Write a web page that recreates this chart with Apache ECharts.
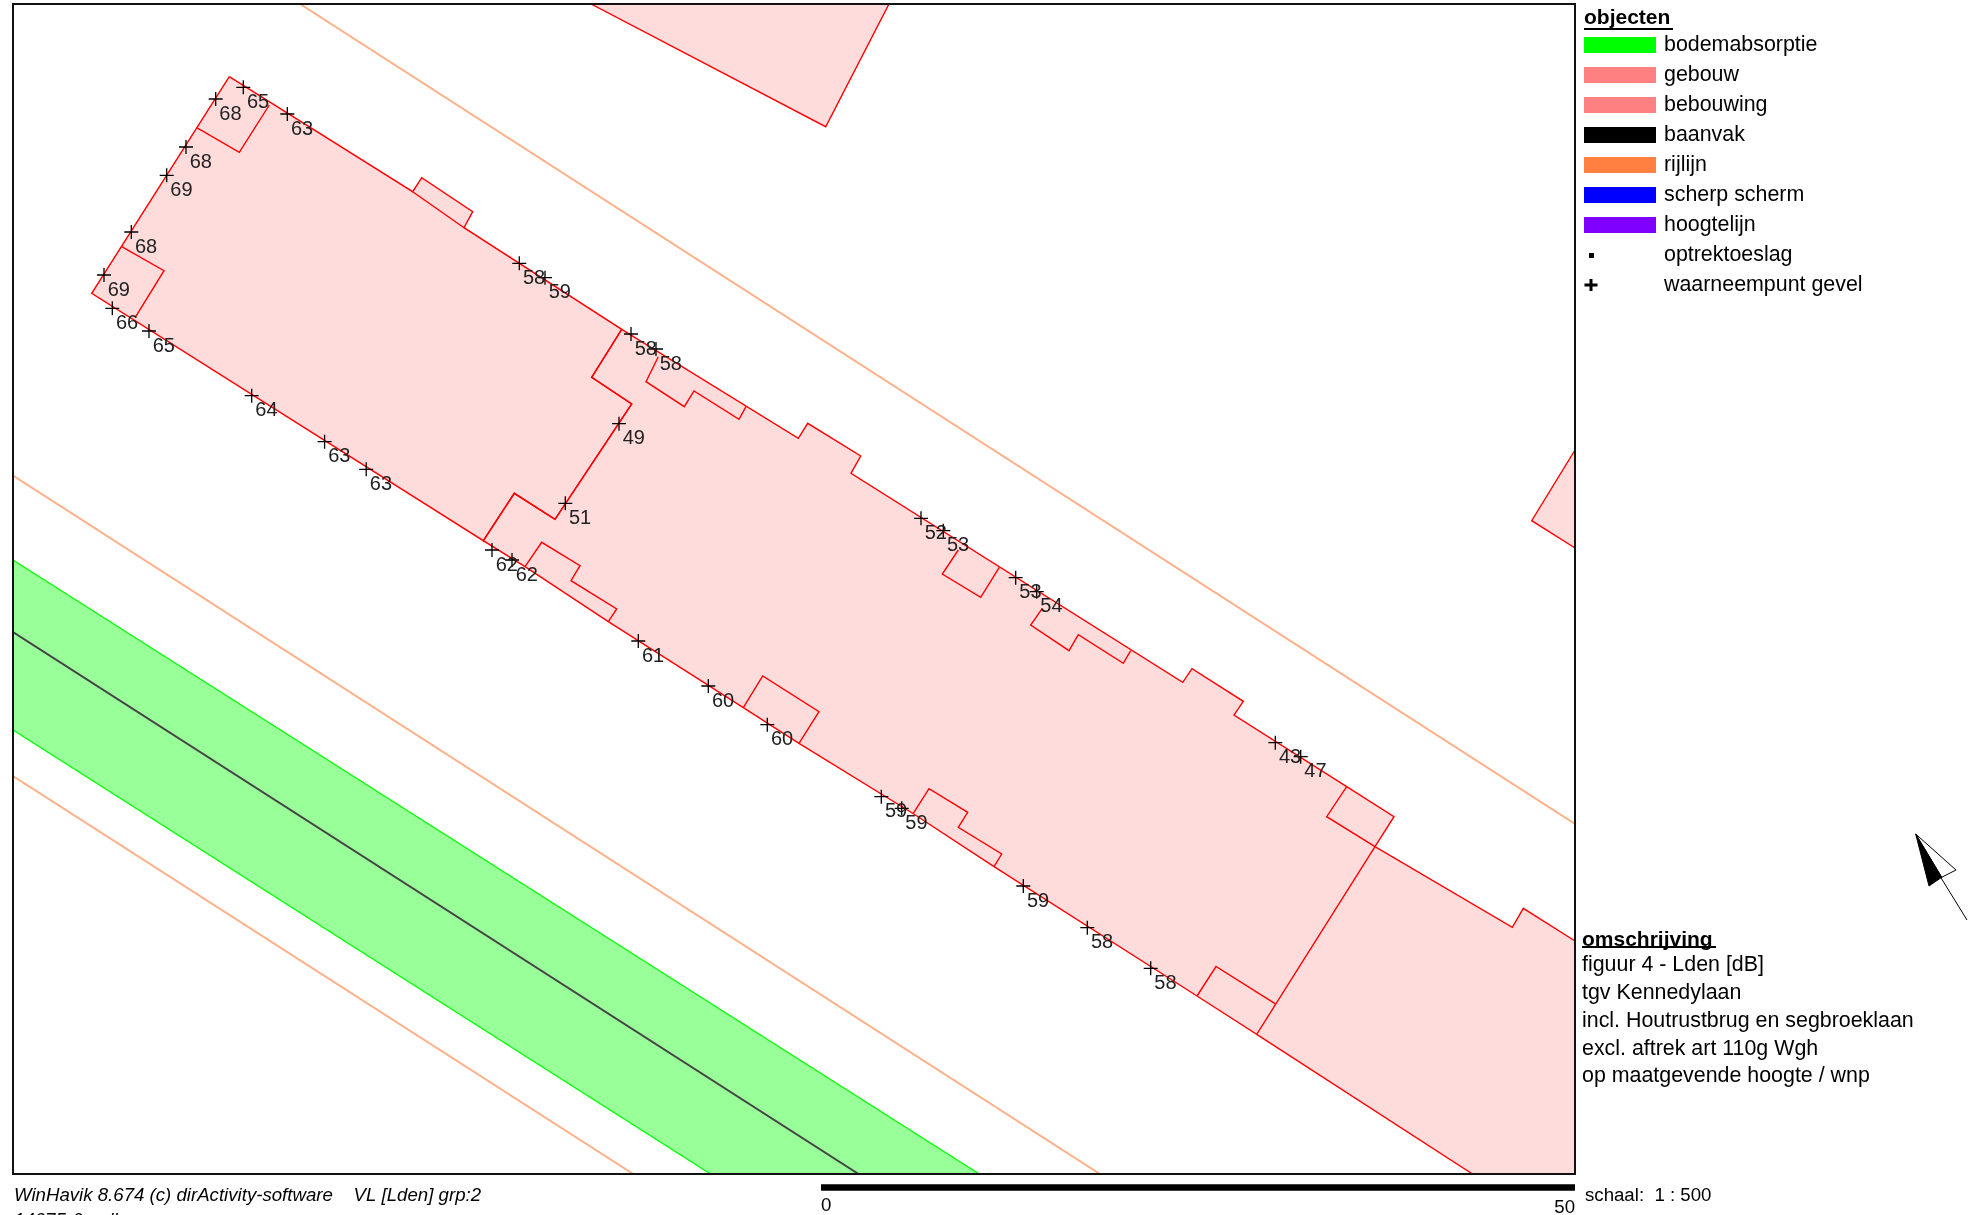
<!DOCTYPE html>
<html>
<head>
<meta charset="utf-8">
<style>html,body{margin:0;padding:0;background:#fff;overflow:hidden}#c{width:1973px;height:1215px}</style>
<script src="https://cdn.jsdelivr.net/npm/echarts@6/dist/echarts.min.js"></script>
</head>
<body>
<div id="c"></div>
<script>
// Map values, in map units.
const mapX = [13, 1575];
const mapY = [4, 1174];

const leftBlock = [[229.3,76.7],[412.7,191.7],[421.7,177.7],[472.7,211.7],[464,227.7],[621.7,329.3],[591.7,377.3],[631.7,404],[555,519.3],[514.3,493.3],[483.3,540.7],[91.7,293.3],[229.3,76.7]];
const middleBlock = [[621.7,329.3],[798.3,438.3],[807.7,423.3],[860.7,456],[851,473.3],[1182.7,682.3],[1192,668.7],[1243.3,701.3],[1234,715],[1346.7,786.7],[1394,816.7],[1375,846.7],[1256.7,1034.3],[1197,996],[994,866.7],[913,813.5],[799,743.3],[743.3,707.7],[608.3,621.7],[525,566.7],[483.3,540.7],[514.3,493.3],[555,519.3],[631.7,404],[591.7,377.3],[621.7,329.3]];
const rightBlock = [[1375,846.7],[1512.3,927.3],[1523.3,908.3],[1575,941],[1575,1174],[1472.5,1174],[1256.7,1034.3],[1375,846.7]];
const topBuilding = [[591,4],[825.7,126.7],[889,4]];
const cornerBuilding = [[1575,450],[1531.7,520.7],[1575,548]];

const wingTop = [[196.7,127.7],[239.3,152.3],[269.3,105]];
const wingLeft = [[121.7,246.7],[164,270.7],[135.7,316.7]];
const bayTop = [[412.7,191.7],[464,227.7]];
const recessA = [[658.3,356.7],[646,381.7],[684.3,406.7],[694,391],[739,419.3],[746,406.7]];
const recessB = [[525,566.7],[541.7,542.3],[580,565.7],[571,580.7],[616.7,609],[608.3,621.7]];
const recessC = [[958.3,550],[942.3,574],[980.7,597.3],[999.3,567.3]];
const recessD = [[1042.3,608.3],[1030.7,625],[1069,650.7],[1078.3,634.7],[1123.3,663.3],[1130.7,650.7]];
const recessE = [[743.3,707.7],[762.7,676],[819,711.7],[799,743.3]];
const recessF = [[913.3,813.3],[929,788.7],[967.7,812.3],[958.3,827.3],[1001.7,854],[994,866.7]];
const recessG = [[1346.7,786.7],[1326.7,816.7],[1375,846.7]];
const recessH = [[1197,996],[1216,966.5],[1275,1003.7]];
const topBuildingEdge = [[591,4],[825.7,126.7],[889,4]];
const cornerEdge = [[1575,450],[1531.7,520.7],[1575,548]];
const rightEdge = [[1375,846.7],[1512.3,927.3],[1523.3,908.3],[1575,941]];
const rightBottom = [[1256.7,1034.3],[1472.5,1174]];

const greenBand = [[13,560],[979.3,1174],[710.6,1174],[13,730]];
const greenEdgeTop = [[13,560],[979.3,1174]];
const greenEdgeBottom = [[13,730],[710.6,1174]];
const baanvak = [[13,632],[858.6,1174]];
const rijlijnA = [[300,4],[1575,824]];
const rijlijnB = [[13,475.6],[1100,1174]];
const rijlijnC = [[13,776],[633.3,1174]];

const gevelX = [243.3,215.7,287.3,186,166.7,131.3,104,112.3,149,519.3,545,251.7,324.6,366.2,631,656,619,565.3,492,512,638.3,708.3,767.3,881.3,901.7,1023.3,1087.3,1150.7,921,943.3,1015.7,1036.7,1275.3,1300.7];
const gevelY = [87.3,99,114,147,175.3,232,275,308.3,331,263.3,277.7,395.7,441.7,469.3,334,349,423.7,503.3,550,560,641,686,724.7,796.7,808.3,886,927.7,968.3,518.3,530.7,577.7,591.7,742.7,756.7];
const gevelLden = [65,68,63,68,69,68,69,66,65,58,59,64,63,63,58,58,49,51,62,62,61,60,60,59,59,59,58,58,52,53,53,54,43,47];

const legendNames = ['bodemabsorptie','gebouw','bebouwing','baanvak','rijlijn','scherp scherm','hoogtelijn','optrektoeslag','waarneempunt gevel'];
const legendColors = ['#00FF00','#FF8080','#FF8080','#000000','#FF8040','#0000FF','#8000FF','#000000','#000000'];
const descriptionLines = ['figuur 4 - Lden [dB]','tgv Kennedylaan','incl. Houtrustbrug en segbroeklaan','excl. aftrek art 110g Wgh','op maatgevende hoogte / wnp'];
const footerLines = ['WinHavik 8.674 (c) dirActivity-software    VL [Lden] grp:2','14075-6.mdb'];
const scaleLabels = ['0','50'];
const scaleText = 'schaal:  1 : 500';

const FONT = '"Liberation Sans", Arial, sans-serif';
const shapes = (name, list, style, z) => ({
  name, type: 'custom', coordinateSystem: 'cartesian2d', clip: true, silent: true, z,
  data: list.map((_, i) => [i]),
  encode: { x: 0, y: 0 },
  renderItem: (params, api) => {
    const p = list[params.dataIndex].map(q => api.coord(q));
    return { type: style.fill ? 'polygon' : 'polyline', shape: { points: p }, style: Object.assign({}, style) };
  }
});
const lines = (color, width) => ({ fill: null, stroke: color, lineWidth: width });

const chart = echarts.init(document.getElementById('c'), null, { renderer: 'canvas' });
const plusIcon = 'path://M0,0L72,0Z M0,16L72,16Z M0.5,6.5H5.5V2H8.5V6.5H13.5V9.5H8.5V14H5.5V9.5H0.5Z';
const squareIcon = 'path://M0,0L72,0Z M0,16L72,16Z M5,6H10V11H5Z';

chart.setOption({
  animation: false,
  backgroundColor: '#fff',
  textStyle: { fontFamily: FONT },
  grid: { left: mapX[0], top: mapY[0], width: mapX[1] - mapX[0], height: mapY[1] - mapY[0], show: false },
  xAxis: { type: 'value', min: mapX[0], max: mapX[1], show: false },
  yAxis: { type: 'value', min: mapY[0], max: mapY[1], inverse: true, show: false },
  tooltip: { show: false },
  legend: {
    orient: 'vertical', left: 1584, top: 33, padding: 0, itemWidth: 72, itemHeight: 16, itemGap: 6,
    selectedMode: false,
    textStyle: { fontFamily: FONT, fontSize: 21.4, color: '#000', lineHeight: 20, padding: [0, 0, 4, 3] },
    data: legendNames.map((n, i) => ({
      name: n,
      icon: i === 7 ? squareIcon : i === 8 ? plusIcon : 'rect',
      itemStyle: { color: legendColors[i], borderWidth: 0, opacity: 1 }
    }))
  },
  title: [
    { text: 'objecten', left: 1584, top: 8, padding: 0, textStyle: { fontFamily: FONT, fontSize: 21, fontWeight: 'bold', color: '#000' } },
    { text: 'omschrijving', left: 1582, top: 930, padding: 0, textStyle: { fontFamily: FONT, fontSize: 21, fontWeight: 'bold', color: '#000' } },
    { text: descriptionLines.join('\n'), left: 1582, top: 951, padding: 0, textStyle: { fontFamily: FONT, fontSize: 21.4, fontWeight: 'normal', color: '#000', lineHeight: 27.9 } },
    { text: footerLines[0], left: 14, top: 1186.5, padding: 0, textStyle: { fontFamily: FONT, fontSize: 18.65, fontStyle: 'italic', fontWeight: 'normal', color: '#000' } },
    { text: footerLines[1], left: 14, top: 1211, padding: 0, textStyle: { fontFamily: FONT, fontSize: 18.65, fontStyle: 'italic', fontWeight: 'normal', color: '#000' } },
    { text: scaleLabels[0], left: 821, top: 1196.5, padding: 0, textStyle: { fontFamily: FONT, fontSize: 18.65, fontWeight: 'normal', color: '#000' } },
    { text: scaleLabels[1], right: 398, top: 1198, padding: 0, textStyle: { fontFamily: FONT, fontSize: 18.65, fontWeight: 'normal', color: '#000' } },
    { text: scaleText, left: 1585, top: 1186.5, padding: 0, textStyle: { fontFamily: FONT, fontSize: 18.65, fontWeight: 'normal', color: '#000' } }
  ],
  graphic: [
    { type: 'rect', z: 100, shape: { x: 13, y: 4, width: 1562, height: 1170 }, style: { fill: null, stroke: '#111', lineWidth: 2 } },
    { type: 'line', z: 100, shape: { x1: 1584, y1: 29, x2: 1673, y2: 29 }, style: { stroke: '#000', lineWidth: 2 } },
    { type: 'line', z: 100, shape: { x1: 1582, y1: 947, x2: 1716, y2: 947 }, style: { stroke: '#000', lineWidth: 2 } },
    { type: 'rect', z: 100, shape: { x: 821, y: 1184.3, width: 754, height: 6.5 }, style: { fill: '#000' } },
    { type: 'polygon', z: 100, shape: { points: [[1915.7,834],[1956,870],[1941.7,877.3]] }, style: { fill: '#fff', stroke: '#000', lineWidth: 1 } },
    { type: 'polygon', z: 101, shape: { points: [[1915.7,834],[1941.7,877.3],[1929,886]] }, style: { fill: '#000', stroke: '#000', lineWidth: 1 } },
    { type: 'line', z: 100, shape: { x1: 1938, y1: 873, x2: 1967, y2: 920 }, style: { stroke: '#000', lineWidth: 1 } }
  ],
  series: [
    shapes('bodemabsorptie', [greenBand], { fill: '#99FF99' }, 2),
    shapes('bodemabsorptie edge', [greenEdgeTop, greenEdgeBottom], lines('#00FF00', 1.3), 3),
    shapes('rijlijn', [rijlijnA, rijlijnB, rijlijnC], lines('#FFB088', 2), 3),
    shapes('baanvak', [baanvak], lines('#444444', 2), 4),
    shapes('gebouw', [leftBlock, middleBlock, rightBlock, topBuilding, cornerBuilding], { fill: '#FFDCDC' }, 5),
    shapes('bebouwing', [leftBlock, middleBlock, wingTop, wingLeft, bayTop, recessA, recessB, recessC, recessD, recessE, recessF, recessG, recessH, topBuildingEdge, cornerEdge, rightEdge, rightBottom], lines('#FF0000', 1.4), 6),
    { name: 'scherp scherm', type: 'scatter', data: [] },
    { name: 'hoogtelijn', type: 'scatter', data: [] },
    { name: 'optrektoeslag', type: 'scatter', data: [] },
    {
      name: 'waarneempunt gevel', type: 'scatter', z: 10, silent: true,
      symbol: 'path://M7,0V14M0,7H14', symbolSize: 14,
      itemStyle: { color: 'rgba(0,0,0,0)', borderColor: '#000', borderWidth: 1.3, opacity: 1 },
      label: {
        show: true, position: 'right', distance: 0, offset: [-4, 15],
        fontFamily: FONT, fontSize: 20, color: '#222',
        formatter: p => String(p.value[2])
      },
      data: gevelX.map((x, i) => [x, gevelY[i], gevelLden[i]])
    }
  ]
});
</script>
</body>
</html>
